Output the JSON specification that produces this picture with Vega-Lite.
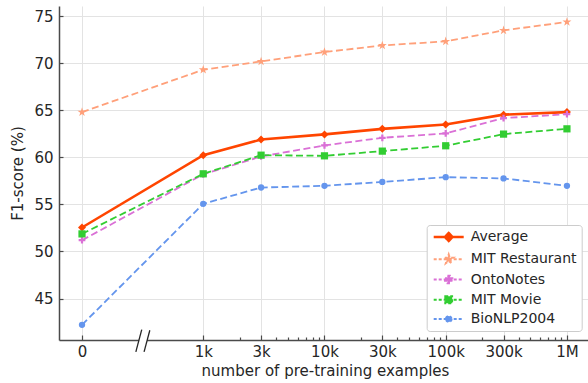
{
  "$schema": "https://vega.github.io/schema/vega-lite/v6.json",
  "width": 529,
  "height": 334,
  "autosize": {"type": "none"},
  "padding": {"left": 59, "top": 6, "right": 0, "bottom": 43},
  "background": "white",
  "config": {
    "view": {"stroke": null},
    "font": "DejaVu Sans",
    "axis": {
      "labelFont": "DejaVu Sans",
      "titleFont": "DejaVu Sans",
      "labelFontSize": 15,
      "titleFontSize": 15,
      "titleFontWeight": "normal",
      "labelColor": "#262626",
      "titleColor": "#262626",
      "domainColor": "#4a4a4a",
      "domainWidth": 1.5,
      "tickColor": "#4a4a4a",
      "tickWidth": 1.2,
      "gridColor": "#e3e3e3",
      "gridWidth": 1
    },
    "legend": {
      "labelFont": "DejaVu Sans",
      "labelFontSize": 14,
      "labelColor": "#262626"
    }
  },
  "datasets": {
    "scores": [
      {"series": "Average", "examples": 100, "f1": 52.55},
      {"series": "Average", "examples": 1000, "f1": 60.24},
      {"series": "Average", "examples": 3000, "f1": 61.9},
      {"series": "Average", "examples": 10000, "f1": 62.45},
      {"series": "Average", "examples": 30000, "f1": 63.04},
      {"series": "Average", "examples": 100000, "f1": 63.5},
      {"series": "Average", "examples": 300000, "f1": 64.55},
      {"series": "Average", "examples": 1000000, "f1": 64.82},
      {"series": "MIT Restaurant", "examples": 100, "f1": 64.82},
      {"series": "MIT Restaurant", "examples": 1000, "f1": 69.32},
      {"series": "MIT Restaurant", "examples": 3000, "f1": 70.21},
      {"series": "MIT Restaurant", "examples": 10000, "f1": 71.2},
      {"series": "MIT Restaurant", "examples": 30000, "f1": 71.91},
      {"series": "MIT Restaurant", "examples": 100000, "f1": 72.34},
      {"series": "MIT Restaurant", "examples": 300000, "f1": 73.51},
      {"series": "MIT Restaurant", "examples": 1000000, "f1": 74.4},
      {"series": "OntoNotes", "examples": 100, "f1": 51.2},
      {"series": "OntoNotes", "examples": 1000, "f1": 58.2},
      {"series": "OntoNotes", "examples": 3000, "f1": 60.1},
      {"series": "OntoNotes", "examples": 10000, "f1": 61.28},
      {"series": "OntoNotes", "examples": 30000, "f1": 62.09},
      {"series": "OntoNotes", "examples": 100000, "f1": 62.55},
      {"series": "OntoNotes", "examples": 300000, "f1": 64.18},
      {"series": "OntoNotes", "examples": 1000000, "f1": 64.6},
      {"series": "MIT Movie", "examples": 100, "f1": 51.87},
      {"series": "MIT Movie", "examples": 1000, "f1": 58.26},
      {"series": "MIT Movie", "examples": 3000, "f1": 60.24},
      {"series": "MIT Movie", "examples": 10000, "f1": 60.17},
      {"series": "MIT Movie", "examples": 30000, "f1": 60.67},
      {"series": "MIT Movie", "examples": 100000, "f1": 61.24},
      {"series": "MIT Movie", "examples": 300000, "f1": 62.48},
      {"series": "MIT Movie", "examples": 1000000, "f1": 63.04},
      {"series": "BioNLP2004", "examples": 100, "f1": 42.2},
      {"series": "BioNLP2004", "examples": 1000, "f1": 55.07},
      {"series": "BioNLP2004", "examples": 3000, "f1": 56.8},
      {"series": "BioNLP2004", "examples": 10000, "f1": 56.98},
      {"series": "BioNLP2004", "examples": 30000, "f1": 57.4},
      {"series": "BioNLP2004", "examples": 100000, "f1": 57.9},
      {"series": "BioNLP2004", "examples": 300000, "f1": 57.77},
      {"series": "BioNLP2004", "examples": 1000000, "f1": 56.98}
    ],
    "axisbreak": [
      {"part": "gap", "x": 296, "y": 40.59, "x2": 344, "y2": 40.59},
      {"part": "slash", "x": 278, "y": 39.32, "x2": 311, "y2": 41.7},
      {"part": "slash", "x": 325, "y": 39.32, "x2": 362.6, "y2": 41.63}
    ]
  },
  "encoding": {
    "x": {
      "field": "examples",
      "type": "quantitative",
      "scale": {"type": "log", "domain": [64.6, 1491800], "nice": false},
      "axis": {
        "title": "number of pre-training examples",
        "titleBaseline": "alphabetic",
        "titleY": 35.5,
        "titleX": 266,
        "values": [100, 1000, 2000, 3000, 4000, 5000, 6000, 7000, 8000, 9000, 10000, 20000, 30000, 40000, 50000, 60000, 70000, 80000, 90000, 100000, 200000, 300000, 400000, 500000, 600000, 700000, 800000, 900000, 1000000],
        "labelExpr": "datum.value == 100 ? '0' : datum.value == 1000 ? '1k' : datum.value == 3000 ? '3k' : datum.value == 10000 ? '10k' : datum.value == 30000 ? '30k' : datum.value == 100000 ? '100k' : datum.value == 300000 ? '300k' : datum.value == 1000000 ? '1M' : ''",
        "labelPadding": 9,
        "labelOverlap": false,
        "labelFlush": false,
        "tickSize": {"condition": {"test": "indexof([100,1000,3000,10000,30000,100000,300000,1000000], datum.value) >= 0", "value": -5}, "value": -3},
        "gridOpacity": {"condition": {"test": "indexof([100,1000,3000,10000,30000,100000,300000,1000000], datum.value) >= 0", "value": 1}, "value": 0}
      }
    },
    "y": {
      "field": "f1",
      "type": "quantitative",
      "scale": {"domain": [40.59, 76.1], "nice": false, "zero": false},
      "axis": {
        "title": "F1-score (%)",
        "values": [45, 50, 55, 60, 65, 70, 75],
        "tickSize": -4,
        "labelPadding": 10,
        "titlePadding": 8
      }
    },
    "color": {
      "field": "series",
      "type": "nominal",
      "scale": {
        "domain": ["Average", "MIT Restaurant", "OntoNotes", "MIT Movie", "BioNLP2004"],
        "range": ["#FF4500", "#FFA07A", "#DA70D6", "#32CD32", "#6495ED"]
      },
      "legend": {
        "title": null,
        "orient": "none",
        "legendX": 367.7,
        "legendY": 219,
        "padding": 5,
        "rowPadding": 4.25,
        "fillColor": "white",
        "strokeColor": "#cccccc",
        "cornerRadius": 3,
        "symbolSize": 100,
        "symbolOffset": 10,
        "labelOffset": 15,
        "encode": {
          "symbols": {
            "update": {
              "shape": {"signal": "datum.value === 'Average' ? 'M-3,0H3M0,-0.8L0.75,0L0,0.8L-0.75,0Z' : datum.value === 'MIT Restaurant' ? 'M-3,0H3M0,-1L0.2245,-0.309L0.951,-0.309L0.363,0.118L0.588,0.809L0,0.382L-0.588,0.809L-0.363,0.118L-0.951,-0.309L-0.2245,-0.309Z' : datum.value === 'OntoNotes' ? 'M-3,0H3M-0.25,-0.75H0.25V-0.25H0.75V0.25H0.25V0.75H-0.25V0.25H-0.75V-0.25H-0.25Z' : datum.value === 'MIT Movie' ? 'M-3,0H3M-0.7,-0.7H0.7V0.7H-0.7Z' : 'M-3,0H3M0.6,0A0.6,0.6,0,1,1,-0.6,0A0.6,0.6,0,1,1,0.6,0Z'"},
              "fill": {"scale": "color", "field": "value"},
              "stroke": {"scale": "color", "field": "value"},
              "strokeDash": {"signal": "datum.value === 'Average' ? [1,0] : [3,2]"},
              "strokeWidth": {"signal": "datum.value === 'Average' ? 2.5 : 1.8"},
              "opacity": {"value": 1},
              "fillOpacity": {"value": 1},
              "size": {"value": 100}
            }
          }
        }
      }
    }
  },
  "layer": [
    {
      "data": {"name": "scores"},
      "transform": [{"filter": "datum.series === 'Average'"}],
      "mark": {"type": "line", "strokeWidth": 2.6, "strokeCap": "round"}
    },
    {
      "data": {"name": "scores"},
      "transform": [{"filter": "datum.series !== 'Average'"}],
      "mark": {"type": "line", "strokeWidth": 1.8, "strokeDash": [7, 3.5]}
    },
    {
      "data": {"name": "scores"},
      "transform": [{"filter": "datum.series === 'Average'"}],
      "mark": {"type": "point", "filled": true, "opacity": 1, "shape": "diamond", "size": 64}
    },
    {
      "data": {"name": "scores"},
      "transform": [{"filter": "datum.series === 'MIT Restaurant'"}],
      "mark": {"type": "point", "filled": true, "opacity": 1, "size": 90, "shape": "M0,-1L0.2245,-0.309L0.951,-0.309L0.363,0.118L0.588,0.809L0,0.382L-0.588,0.809L-0.363,0.118L-0.951,-0.309L-0.2245,-0.309Z"}
    },
    {
      "data": {"name": "scores"},
      "transform": [{"filter": "datum.series === 'OntoNotes'"}],
      "mark": {"type": "point", "filled": true, "opacity": 1, "shape": "M-0.25,-0.75H0.25V-0.25H0.75V0.25H0.25V0.75H-0.25V0.25H-0.75V-0.25H-0.25Z", "size": 80}
    },
    {
      "data": {"name": "scores"},
      "transform": [{"filter": "datum.series === 'MIT Movie'"}],
      "mark": {"type": "point", "filled": true, "opacity": 1, "shape": "square", "size": 52}
    },
    {
      "data": {"name": "scores"},
      "transform": [{"filter": "datum.series === 'BioNLP2004'"}],
      "mark": {"type": "point", "filled": true, "opacity": 1, "shape": "circle", "size": 40}
    },
    {
      "data": {"name": "axisbreak"},
      "transform": [{"filter": "datum.part === 'gap'"}],
      "mark": {"type": "rule", "strokeWidth": 4},
      "encoding": {
        "x": {"field": "x", "type": "quantitative"},
        "x2": {"field": "x2"},
        "y": {"field": "y", "type": "quantitative"},
        "y2": {"field": "y2"},
        "color": {"value": "white"}
      }
    },
    {
      "data": {"name": "axisbreak"},
      "transform": [{"filter": "datum.part === 'slash'"}],
      "mark": {"type": "rule", "strokeWidth": 1.3},
      "encoding": {
        "x": {"field": "x", "type": "quantitative"},
        "x2": {"field": "x2"},
        "y": {"field": "y", "type": "quantitative"},
        "y2": {"field": "y2"},
        "color": {"value": "#262626"}
      }
    }
  ]
}
